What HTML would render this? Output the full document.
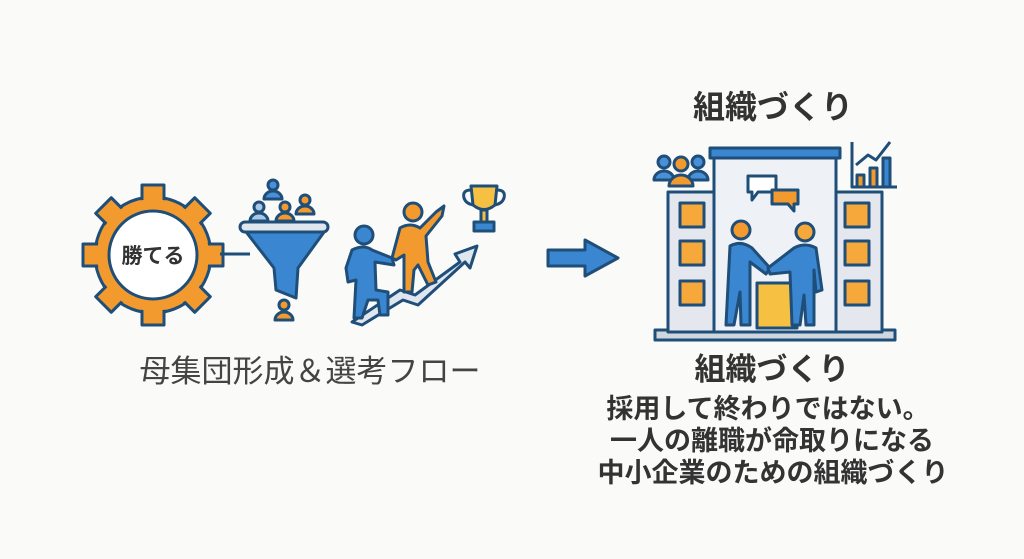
<!DOCTYPE html>
<html><head><meta charset="utf-8"><style>
body{margin:0;width:1024px;height:559px;background:#fafaf8;overflow:hidden;font-family:"Liberation Sans","Noto Sans CJK JP",sans-serif;}
svg{position:absolute;left:0;top:0}
</style></head><body>
<svg width="1024" height="559" viewBox="0 0 1024 559">
<g stroke="#1f4e79" stroke-width="3" stroke-linejoin="round">
<g transform="translate(153,255)">
<g fill="#f39a2e">
<circle r="58"/>
<g id="t"><rect x="-11" y="-70" width="22" height="20"/></g>
<use href="#t" transform="rotate(45)"/><use href="#t" transform="rotate(90)"/><use href="#t" transform="rotate(135)"/>
<use href="#t" transform="rotate(180)"/><use href="#t" transform="rotate(225)"/><use href="#t" transform="rotate(270)"/><use href="#t" transform="rotate(315)"/>
</g>
<circle r="56" fill="#f39a2e" stroke="none"/>
<circle r="44" fill="#fff"/>
</g>
<line x1="220" y1="254" x2="250" y2="254"/>
<path d="M243 228 L327 228 L298 268 L296 298 L276 290 L274 268 Z" fill="#3a86d0"/>
<rect x="240" y="222" width="88" height="10" rx="5" fill="#dfe6ee"/>
<g fill="#4a90d9"><circle cx="273" cy="185" r="5"/><path d="M264 199 a9 8 0 0 1 18 0z"/></g>
<g fill="#f39a2e"><circle cx="305" cy="200" r="5"/><path d="M296 214 a9 8 0 0 1 18 0z"/></g>
<g fill="#aac8e6"><circle cx="259" cy="207" r="5"/><path d="M250 221 a9 8 0 0 1 18 0z"/></g>
<g fill="#f39a2e"><circle cx="285" cy="207" r="5"/><path d="M276 221 a9 8 0 0 1 18 0z"/></g>
<g fill="#f39a2e"><circle cx="284" cy="305" r="5"/><path d="M275 320 a9 8 0 0 1 18 0z"/></g>
<path d="M352 322 L400 290 L415 295 L460 262 L455 254 L477 246 L470 268 L465 262 L418 305 L403 300 L362 325 Z" fill="#dfe6ee"/>
<circle cx="364" cy="235" r="9" fill="#3a86d0"/>
<path d="M352 250 Q364 244 372 250 L392 258 L394 265 L375 262 L376 290 L388 292 L388 315 L380 315 L378 300 L368 300 L362 318 L354 318 L356 280 L348 282 L346 268 Z" fill="#3a86d0"/>
<circle cx="413" cy="212" r="9" fill="#f39a2e"/>
<path d="M400 228 Q410 222 420 228 L436 212 L444 206 L442 216 L426 236 L428 262 L436 282 L428 285 L418 265 L414 270 L412 292 L404 292 L404 255 L396 260 L392 258 Z" fill="#f39a2e"/>
<path d="M471 186 L497 186 L495 205 Q484 214 473 205 Z" fill="#f6c142"/>
<path d="M471 190 Q462 190 464 198 Q466 204 474 205 M497 190 Q506 190 504 198 Q502 204 494 205" fill="none"/>
<rect x="481" y="210" width="6" height="12" fill="#f6c142"/>
<rect x="474" y="222" width="20" height="9" fill="#3a86d0"/>
<path d="M548 250 L585 250 L585 240 L618 258 L585 276 L585 266 L548 266 Z" fill="#3a86d0"/>
<rect x="655" y="330" width="240" height="10" fill="#cfd6de"/>
<rect x="668" y="192" width="46" height="140" fill="#e4e8ee"/>
<rect x="836" y="192" width="46" height="140" fill="#e4e8ee"/>
<rect x="714" y="156" width="122" height="176" fill="#eef1f5"/>
<rect x="710" y="148" width="130" height="10" fill="#3a86d0"/>
<g fill="#f6a93a">
<rect x="680" y="203" width="24" height="24"/><rect x="680" y="241" width="24" height="24"/><rect x="680" y="281" width="24" height="24"/>
<rect x="845" y="203" width="24" height="24"/><rect x="845" y="241" width="24" height="24"/><rect x="845" y="281" width="24" height="24"/>
</g>
<rect x="757" y="283" width="40" height="45" fill="#f6c142"/>
<path d="M748 176 h28 v16 h-18 l-6 8 v-8 h-4z" fill="#fff"/>
<path d="M772 190 h26 v14 h-4 v7 l-6 -7 h-16z" fill="#f39a2e"/>
<circle cx="741" cy="230" r="9" fill="#f39a2e"/>
<path d="M730 246 Q741 240 752 248 L770 268 L766 274 L750 262 L750 325 L741 325 L740 292 L734 325 L726 325 Z" fill="#3a86d0"/>
<circle cx="805" cy="232" r="9" fill="#f6a93a"/>
<path d="M794 248 Q805 242 816 248 L822 290 L816 292 L814 270 L814 325 L806 325 L804 295 L800 325 L792 325 L790 272 L770 274 L768 268 Z" fill="#3a86d0"/>
<g fill="#4a90d9"><circle cx="664" cy="162" r="6"/><path d="M654 180 a10 9 0 0 1 20 0z"/><circle cx="698" cy="162" r="6"/><path d="M688 180 a10 9 0 0 1 20 0z"/></g>
<g fill="#f39a2e"><circle cx="681" cy="164" r="7"/><path d="M669 186 a12 11 0 0 1 24 0z"/></g>
<path d="M852 142 V187 H897" fill="none"/>
<rect x="857" y="175" width="7" height="12" fill="#f39a2e"/><rect x="870" y="168" width="7" height="19" fill="#f39a2e"/><rect x="883" y="158" width="7" height="29" fill="#3a86d0"/>
<path d="M856 165 L868 155 L876 160 L890 142" fill="none"/>
</g>
<g fill="#333" text-anchor="middle">
<text x="153" y="263" font-size="21" font-weight="bold">勝てる</text>
<text x="310" y="382" font-size="31" fill="#444">母集団形成＆選考フロー</text>
<text x="773" y="118" font-size="32" font-weight="bold">組織づくり</text>
<text x="772" y="380" font-size="31" font-weight="bold">組織づくり</text>
<text x="768" y="418" font-size="27" font-weight="bold">採用して終わりではない。</text>
<text x="772" y="450" font-size="27" font-weight="bold">一人の離職が命取りになる</text>
<text x="773" y="482" font-size="27" font-weight="bold">中小企業のための組織づくり</text>
</g>
</svg>
</body></html>
